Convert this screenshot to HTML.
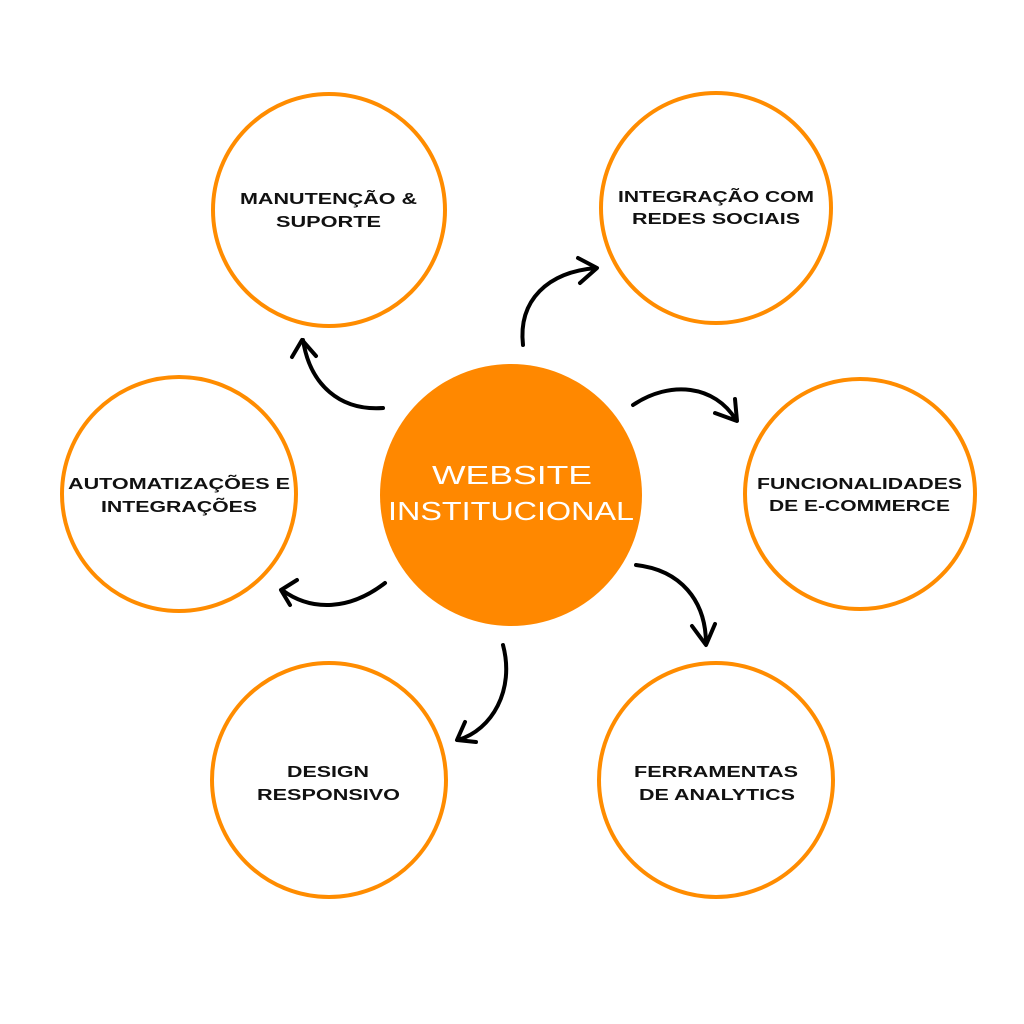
<!DOCTYPE html>
<html><head><meta charset="utf-8"><style>
html,body{margin:0;padding:0;background:#fff;}
svg{display:block;}
text{font-family:"Liberation Sans",sans-serif;font-weight:bold;fill:#111;font-size:16px;}
</style></head><body>
<svg width="1024" height="1024" viewBox="0 0 1024 1024" xmlns="http://www.w3.org/2000/svg">
<rect width="1024" height="1024" fill="#fff"/>
<g fill="none" stroke="#FF8C00" stroke-width="4">
<circle cx="329" cy="210" r="116"/>
<circle cx="716" cy="208" r="115"/>
<circle cx="179" cy="494" r="117"/>
<circle cx="860" cy="494" r="115"/>
<circle cx="329" cy="780" r="117"/>
<circle cx="716" cy="780" r="117"/>
</g>
<circle cx="511" cy="495" r="131" fill="#FF8800"/>
<g fill="none" stroke="#000" stroke-width="4" stroke-linecap="round" stroke-linejoin="round">
<path d="M523,345 C518,300 548,272 596,268"/><path d="M578,258 L597,268 L580,283"/>
<path d="M633,405 C670,380 715,385 736,420"/><path d="M715,413 L737,421 L735,399"/>
<path d="M383,408 C340,411 310,385 303,340"/><path d="M292,357 L302,340 L316,356"/>
<path d="M385,583 C350,610 312,612 282,590"/><path d="M297,580 L281,590 L290,605"/>
<path d="M503,645 C515,690 492,730 458,740"/><path d="M465,722 L457,740 L476,742"/>
<path d="M636,565 C680,570 706,600 706,644"/><path d="M692,626 L706,645 L715,624"/>
</g>
<text x="240" y="204" textLength="177" lengthAdjust="spacingAndGlyphs">MANUTENÇÃO &amp;</text>
<text x="276" y="227" textLength="105" lengthAdjust="spacingAndGlyphs">SUPORTE</text>
<text x="618" y="202" textLength="196" lengthAdjust="spacingAndGlyphs">INTEGRAÇÃO COM</text>
<text x="632" y="224" textLength="168" lengthAdjust="spacingAndGlyphs">REDES SOCIAIS</text>
<text x="68" y="489" textLength="222" lengthAdjust="spacingAndGlyphs">AUTOMATIZAÇÕES E</text>
<text x="101" y="512" textLength="156" lengthAdjust="spacingAndGlyphs">INTEGRAÇÕES</text>
<text x="757" y="489" textLength="205" lengthAdjust="spacingAndGlyphs">FUNCIONALIDADES</text>
<text x="769" y="511" textLength="181" lengthAdjust="spacingAndGlyphs">DE E-COMMERCE</text>
<text x="287" y="777" textLength="82" lengthAdjust="spacingAndGlyphs">DESIGN</text>
<text x="257" y="800" textLength="143" lengthAdjust="spacingAndGlyphs">RESPONSIVO</text>
<text x="634" y="777" textLength="164" lengthAdjust="spacingAndGlyphs">FERRAMENTAS</text>
<text x="639" y="800" textLength="156" lengthAdjust="spacingAndGlyphs">DE ANALYTICS</text>
<text x="432" y="484" style="fill:#fff;font-size:26px;font-weight:normal" textLength="160" lengthAdjust="spacingAndGlyphs">WEBSITE</text>
<text x="388" y="520" style="fill:#fff;font-size:26px;font-weight:normal" textLength="246" lengthAdjust="spacingAndGlyphs">INSTITUCIONAL</text>
</svg>
</body></html>
